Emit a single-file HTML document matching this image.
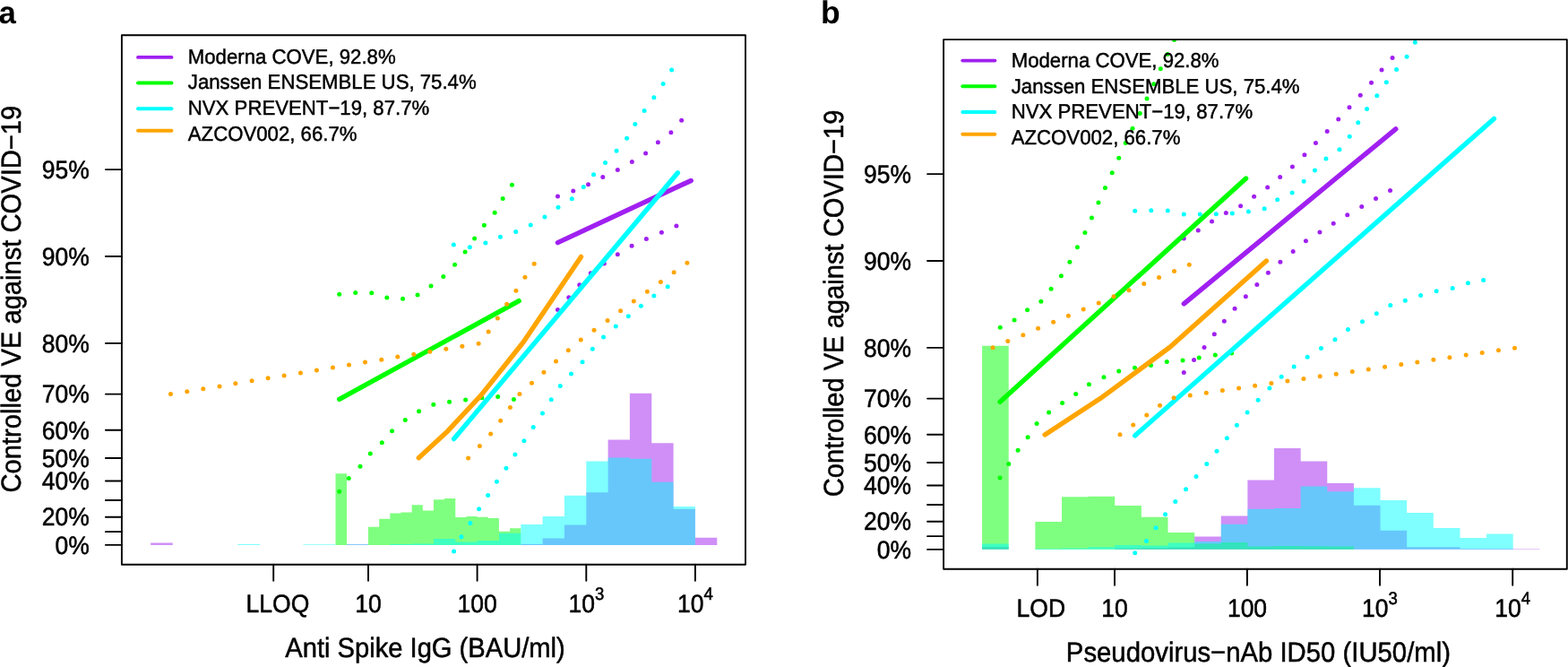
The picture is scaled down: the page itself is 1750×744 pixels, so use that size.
<!DOCTYPE html>
<html><head><meta charset="utf-8"><title>Figure</title>
<style>
html,body{margin:0;padding:0;background:#fff;}
body{width:1750px;height:744px;overflow:hidden;}
svg{display:block;font-family:"Liberation Sans",Arial,Helvetica,sans-serif;font-kerning:none;text-rendering:geometricPrecision;}
</style></head><body>
<svg width="1750" height="744" viewBox="0 0 1750 744">
<rect width="1750" height="744" fill="#fff"/>
<clipPath id="ca"><rect x="135.9" y="39.3" width="696.1" height="590.5"/></clipPath>
<g clip-path="url(#ca)">
<path d="M168.2,607.9L168.2,605.4L192.7,605.4L192.7,607.9Z M387,607.9L387,607.3L411,607.3L411,607.9Z M581.3,607.9L581.3,606.9L605.6,606.9L605.6,600.4L629.9,600.4L629.9,585.6L654.3,585.6L654.3,549.2L678.6,549.2L678.6,490.6L702.9,490.6L702.9,438.8L727.3,438.8L727.3,494.2L751.6,494.2L751.6,567.8L775.9,567.8L775.9,599.8L800.3,599.8L800.3,607.9Z" fill="#A020F0" fill-opacity="0.5"/>
<path d="M374.5,607.9L374.5,528.3L387,528.3L387,607.9Z M411,607.9L411,587.8L423.16,587.8L423.16,578.8L435.32,578.8L435.32,572.6L447.48,572.6L447.48,571.6L459.64,571.6L459.64,563.3L471.8,563.3L471.8,569.6L483.96,569.6L483.96,557.3L496.12,557.3L496.12,556L508.28,556L508.28,577.1L520.44,577.1L520.44,576.1L532.6,576.1L532.6,576.8L544.76,576.8L544.76,578.1L556.92,578.1L556.92,592.8L569.08,592.8L569.08,589.3L581.24,589.3L581.24,607.9Z" fill="#00FF00" fill-opacity="0.5"/>
<path d="M265.3,607.9L265.3,606.9L289.9,606.9L289.9,607.9Z M338.4,607.9L338.4,607.2L374.5,607.2L374.5,607.9Z M387,607.9L387,607.3L411,607.3L411,607.9Z M435.3,607.9L435.3,606.9L459.6,606.9L459.6,606.4L484,606.4L484,600.9L508.3,600.9L508.3,604.6L532.6,604.6L532.6,603.1L557,603.1L557,594.8L581.3,594.8L581.3,585.1L605.6,585.1L605.6,576.1L629.9,576.1L629.9,552.8L654.3,552.8L654.3,514.4L678.6,514.4L678.6,510.4L702.9,510.4L702.9,511.7L727.3,511.7L727.3,537.7L751.6,537.7L751.6,565.1L775.9,565.1L775.9,607.9Z" fill="#00FFFF" fill-opacity="0.5"/>
<polyline points="622.5,270.6 771.2,201.5" fill="none" stroke="#A020F0" stroke-width="5.4" stroke-linecap="round" stroke-linejoin="round"/>
<g fill="#A020F0">
<circle cx="622.48" cy="219.04" r="2.5"/>
<circle cx="639.75" cy="213.03" r="2.5"/>
<circle cx="656.52" cy="205.77" r="2.5"/>
<circle cx="672.79" cy="197.51" r="2.5"/>
<circle cx="689.32" cy="189.5" r="2.5"/>
<circle cx="705.34" cy="180.48" r="2.5"/>
<circle cx="720.6" cy="170.96" r="2.5"/>
<circle cx="734.37" cy="158.7" r="2.5"/>
<circle cx="748.89" cy="147.68" r="2.5"/>
<circle cx="760.65" cy="134.17" r="2.5"/>
<circle cx="622.48" cy="345.45" r="2.5"/>
<circle cx="634.75" cy="331.68" r="2.5"/>
<circle cx="646.76" cy="317.66" r="2.5"/>
<circle cx="659.28" cy="304.65" r="2.5"/>
<circle cx="674.3" cy="293.88" r="2.5"/>
<circle cx="689.32" cy="283.87" r="2.5"/>
<circle cx="705.09" cy="274.36" r="2.5"/>
<circle cx="721.36" cy="266.6" r="2.5"/>
<circle cx="738.38" cy="259.34" r="2.5"/>
<circle cx="754.9" cy="252.08" r="2.5"/>
</g>
<polyline points="378.7,445.3 579.2,335.7" fill="none" stroke="#00FF00" stroke-width="5.4" stroke-linecap="round" stroke-linejoin="round"/>
<g fill="#00FF00">
<circle cx="378.72" cy="328.18" r="2.5"/>
<circle cx="396.75" cy="326.43" r="2.5"/>
<circle cx="414.77" cy="326.68" r="2.5"/>
<circle cx="431.79" cy="331.93" r="2.5"/>
<circle cx="449.52" cy="333.18" r="2.5"/>
<circle cx="466.04" cy="328.93" r="2.5"/>
<circle cx="481.06" cy="318.92" r="2.5"/>
<circle cx="494.82" cy="308.4" r="2.5"/>
<circle cx="507.59" cy="295.14" r="2.5"/>
<circle cx="519.1" cy="281.12" r="2.5"/>
<circle cx="529.62" cy="266.1" r="2.5"/>
<circle cx="540.38" cy="251.33" r="2.5"/>
<circle cx="552.14" cy="237.31" r="2.5"/>
<circle cx="561.16" cy="221.54" r="2.5"/>
<circle cx="571.42" cy="206.28" r="2.5"/>
<circle cx="378.72" cy="548.22" r="2.5"/>
<circle cx="389.24" cy="533.45" r="2.5"/>
<circle cx="402" cy="520.19" r="2.5"/>
<circle cx="413.27" cy="505.92" r="2.5"/>
<circle cx="426.28" cy="493.65" r="2.5"/>
<circle cx="437.55" cy="480.64" r="2.5"/>
<circle cx="452.27" cy="468.62" r="2.5"/>
<circle cx="467.54" cy="458.86" r="2.5"/>
<circle cx="483.81" cy="451.35" r="2.5"/>
<circle cx="501.58" cy="448.35" r="2.5"/>
<circle cx="519.6" cy="446.09" r="2.5"/>
<circle cx="537.88" cy="443.84" r="2.5"/>
<circle cx="555.65" cy="442.59" r="2.5"/>
<circle cx="573.42" cy="445.59" r="2.5"/>
</g>
<polyline points="506.6,489.6 756.4,192.8" fill="none" stroke="#00FFFF" stroke-width="5.4" stroke-linecap="round" stroke-linejoin="round"/>
<g fill="#00FFFF">
<circle cx="506.34" cy="273.11" r="2.5"/>
<circle cx="524.36" cy="275.86" r="2.5"/>
<circle cx="541.88" cy="271.11" r="2.5"/>
<circle cx="558.4" cy="264.35" r="2.5"/>
<circle cx="575.67" cy="258.59" r="2.5"/>
<circle cx="592.19" cy="251.08" r="2.5"/>
<circle cx="607.96" cy="242.07" r="2.5"/>
<circle cx="622.98" cy="231.31" r="2.5"/>
<circle cx="638.25" cy="221.79" r="2.5"/>
<circle cx="651.27" cy="208.53" r="2.5"/>
<circle cx="662.53" cy="194.76" r="2.5"/>
<circle cx="675.55" cy="181.48" r="2.5"/>
<circle cx="688.06" cy="168.21" r="2.5"/>
<circle cx="699.58" cy="154.19" r="2.5"/>
<circle cx="708.84" cy="138.42" r="2.5"/>
<circle cx="719.1" cy="123.4" r="2.5"/>
<circle cx="729.87" cy="108.64" r="2.5"/>
<circle cx="740.13" cy="93.62" r="2.5"/>
<circle cx="749.64" cy="78.1" r="2.5"/>
<circle cx="506.59" cy="615.12" r="2.5"/>
<circle cx="514.85" cy="598.85" r="2.5"/>
<circle cx="524.86" cy="583.58" r="2.5"/>
<circle cx="534.62" cy="567.81" r="2.5"/>
<circle cx="544.63" cy="552.48" r="2.5"/>
<circle cx="554.4" cy="537.21" r="2.5"/>
<circle cx="564.91" cy="522.19" r="2.5"/>
<circle cx="574.92" cy="506.92" r="2.5"/>
<circle cx="584.93" cy="491.65" r="2.5"/>
<circle cx="595.2" cy="476.38" r="2.5"/>
<circle cx="605.46" cy="461.11" r="2.5"/>
<circle cx="615.22" cy="445.84" r="2.5"/>
<circle cx="625.24" cy="430.57" r="2.5"/>
<circle cx="637.5" cy="417.06" r="2.5"/>
<circle cx="650.02" cy="403.79" r="2.5"/>
<circle cx="661.28" cy="389.27" r="2.5"/>
<circle cx="673.55" cy="376.01" r="2.5"/>
<circle cx="687.31" cy="363.97" r="2.5"/>
<circle cx="701.33" cy="352.71" r="2.5"/>
<circle cx="715.35" cy="341.19" r="2.5"/>
<circle cx="729.87" cy="329.93" r="2.5"/>
<circle cx="745.14" cy="319.67" r="2.5"/>
</g>
<polyline points="467.3,510.7 499.6,480.9 537.1,440.6 584.2,381.5 648.5,286.4" fill="none" stroke="#FFA500" stroke-width="5.4" stroke-linecap="round" stroke-linejoin="round"/>
<g fill="#FFA500">
<circle cx="190.49" cy="439.58" r="2.5"/>
<circle cx="208.76" cy="436.83" r="2.5"/>
<circle cx="226.78" cy="433.83" r="2.5"/>
<circle cx="245.06" cy="431.07" r="2.5"/>
<circle cx="262.83" cy="427.82" r="2.5"/>
<circle cx="281.1" cy="424.82" r="2.5"/>
<circle cx="299.12" cy="421.81" r="2.5"/>
<circle cx="317.15" cy="419.06" r="2.5"/>
<circle cx="335.42" cy="416.06" r="2.5"/>
<circle cx="353.44" cy="413.05" r="2.5"/>
<circle cx="371.46" cy="410.05" r="2.5"/>
<circle cx="389.49" cy="407.04" r="2.5"/>
<circle cx="407.51" cy="404.04" r="2.5"/>
<circle cx="425.78" cy="401.29" r="2.5"/>
<circle cx="443.76" cy="398.03" r="2.5"/>
<circle cx="461.78" cy="395.28" r="2.5"/>
<circle cx="479.8" cy="392.28" r="2.5"/>
<circle cx="497.83" cy="389.27" r="2.5"/>
<circle cx="515.85" cy="386.27" r="2.5"/>
<circle cx="534.12" cy="383.26" r="2.5"/>
<circle cx="545.14" cy="369.98" r="2.5"/>
<circle cx="555.4" cy="354.96" r="2.5"/>
<circle cx="565.66" cy="339.19" r="2.5"/>
<circle cx="575.92" cy="324.17" r="2.5"/>
<circle cx="585.94" cy="309.15" r="2.5"/>
<circle cx="596.2" cy="294.14" r="2.5"/>
<circle cx="522.61" cy="510.92" r="2.5"/>
<circle cx="535.37" cy="497.41" r="2.5"/>
<circle cx="547.64" cy="483.89" r="2.5"/>
<circle cx="558.65" cy="469.37" r="2.5"/>
<circle cx="569.42" cy="454.6" r="2.5"/>
<circle cx="579.93" cy="439.58" r="2.5"/>
<circle cx="593.45" cy="427.32" r="2.5"/>
<circle cx="606.96" cy="415.3" r="2.5"/>
<circle cx="620.48" cy="403.04" r="2.5"/>
<circle cx="634.25" cy="390.77" r="2.5"/>
<circle cx="648.26" cy="379.01" r="2.5"/>
<circle cx="663.03" cy="368.23" r="2.5"/>
<circle cx="678.05" cy="357.46" r="2.5"/>
<circle cx="692.57" cy="346.7" r="2.5"/>
<circle cx="707.34" cy="335.94" r="2.5"/>
<circle cx="722.36" cy="325.17" r="2.5"/>
<circle cx="737.38" cy="314.41" r="2.5"/>
<circle cx="752.14" cy="303.65" r="2.5"/>
<circle cx="766.91" cy="293.13" r="2.5"/>
</g>
</g>
<g stroke="#000" stroke-width="1.9" fill="none" stroke-linecap="round" stroke-linejoin="round">
<rect x="135.9" y="39.3" width="696.1" height="590.5"/>
<line x1="117.9" y1="189.1" x2="135.9" y2="189.1"/>
<line x1="117.9" y1="286" x2="135.9" y2="286"/>
<line x1="117.9" y1="382.9" x2="135.9" y2="382.9"/>
<line x1="117.9" y1="439.58" x2="135.9" y2="439.58"/>
<line x1="117.9" y1="479.8" x2="135.9" y2="479.8"/>
<line x1="117.9" y1="511" x2="135.9" y2="511"/>
<line x1="117.9" y1="536.49" x2="135.9" y2="536.49"/>
<line x1="117.9" y1="558.04" x2="135.9" y2="558.04"/>
<line x1="117.9" y1="576.7" x2="135.9" y2="576.7"/>
<line x1="117.9" y1="593.17" x2="135.9" y2="593.17"/>
<line x1="117.9" y1="607.9" x2="135.9" y2="607.9"/>
<line x1="305.2" y1="629.8" x2="305.2" y2="647.8"/>
<line x1="411" y1="629.8" x2="411" y2="647.8"/>
<line x1="532.6" y1="629.8" x2="532.6" y2="647.8"/>
<line x1="654.3" y1="629.8" x2="654.3" y2="647.8"/>
<line x1="775.9" y1="629.8" x2="775.9" y2="647.8"/>
</g>
<g font-size="26.5" fill="#000" stroke="#000" stroke-width="0.5" stroke-linejoin="round">
<text transform="translate(99.8,198.8) scale(1,1.068)" text-anchor="end">95%</text>
<text transform="translate(99.8,295.7) scale(1,1.068)" text-anchor="end">90%</text>
<text transform="translate(99.8,392.6) scale(1,1.068)" text-anchor="end">80%</text>
<text transform="translate(99.8,449.28) scale(1,1.068)" text-anchor="end">70%</text>
<text transform="translate(99.8,489.5) scale(1,1.068)" text-anchor="end">60%</text>
<text transform="translate(99.8,520.7) scale(1,1.068)" text-anchor="end">50%</text>
<text transform="translate(99.8,546.19) scale(1,1.068)" text-anchor="end">40%</text>
<text transform="translate(99.8,586.4) scale(1,1.068)" text-anchor="end">20%</text>
<text transform="translate(99.8,617.6) scale(1,1.068)" text-anchor="end">0%</text>
<text transform="translate(309.9,683.1) scale(1,1.068)" text-anchor="middle">LLOQ</text>
<text transform="translate(411.1,683.1) scale(1,1.068)" text-anchor="middle">10</text>
<text transform="translate(532.7,683.1) scale(1,1.068)" text-anchor="middle">100</text>
<text transform="translate(634.41,683.1) scale(1,1.068)">10<tspan font-size="18.55" dy="-13.3">3</tspan></text>
<text transform="translate(756.01,683.1) scale(1,1.068)">10<tspan font-size="18.55" dy="-13.3">4</tspan></text>
</g>
<g font-size="29.15" fill="#000" stroke="#000" stroke-width="0.5" stroke-linejoin="round">
<text font-size="29.15" transform="translate(474.5,732.7) scale(1,1.06)" text-anchor="middle">Anti Spike IgG (BAU/ml)</text>
<text transform="translate(23.3,333.6) rotate(-90) scale(1,1.06)" text-anchor="middle">Controlled VE against COVID−19</text>
</g>
<text x="-1.5" y="25.9" font-size="34.8" font-weight="bold">a</text>
<line x1="154" y1="63.9" x2="191.5" y2="63.9" stroke="#A020F0" stroke-width="3.9" stroke-linecap="round"/>
<line x1="154" y1="92.5" x2="191.5" y2="92.5" stroke="#00FF00" stroke-width="3.9" stroke-linecap="round"/>
<line x1="154" y1="121.2" x2="191.5" y2="121.2" stroke="#00FFFF" stroke-width="3.9" stroke-linecap="round"/>
<line x1="154" y1="145.8" x2="191.5" y2="145.8" stroke="#FFA500" stroke-width="3.9" stroke-linecap="round"/>
<g font-size="22.2" fill="#000" stroke="#000" stroke-width="0.45" stroke-linejoin="round">
<text transform="translate(209.8,70.7) scale(1,1.03)">Moderna COVE, 92.8%</text>
<text transform="translate(209.8,99.4) scale(1,1.03)">Janssen ENSEMBLE US, 75.4%</text>
<text transform="translate(209.8,128) scale(1,1.03)">NVX PREVENT−19, 87.7%</text>
<text transform="translate(209.8,156.7) scale(1,1.03)">AZCOV002, 66.7%</text>
</g>
<clipPath id="cb"><rect x="1053.1" y="44.1" width="695.7" height="590.7"/></clipPath>
<g clip-path="url(#cb)">
<path d="M1096.1,612.7L1096.1,609.9L1125.73,609.9L1125.73,612.7Z M1244.25,612.7L1244.25,611.8L1273.88,611.8L1273.88,611.2L1303.51,611.2L1303.51,610.5L1333.14,610.5L1333.14,598.6L1362.77,598.6L1362.77,575.6L1392.4,575.6L1392.4,535.5L1422.03,535.5L1422.03,499.9L1451.66,499.9L1451.66,514.4L1481.29,514.4L1481.29,539L1510.92,539L1510.92,563.8L1540.55,563.8L1540.55,591.8L1570.18,591.8L1570.18,610.2L1599.81,610.2L1599.81,610.2L1629.44,610.2L1629.44,612L1659.07,612L1659.07,612L1688.7,612L1688.7,612.2L1718.33,612.2L1718.33,612.7Z" fill="#A020F0" fill-opacity="0.5"/>
<path d="M1096.1,612.7L1096.1,385.8L1125.73,385.8L1125.73,612.7Z M1155.36,612.7L1155.36,582.1L1184.99,582.1L1184.99,554.3L1214.62,554.3L1214.62,553.8L1244.25,553.8L1244.25,564.1L1273.88,564.1L1273.88,576.8L1303.51,576.8L1303.51,594.1L1333.14,594.1L1333.14,606.4L1362.77,606.4L1362.77,605.1L1392.4,605.1L1392.4,609.6L1422.03,609.6L1422.03,608.9L1451.66,608.9L1451.66,609.3L1481.29,609.3L1481.29,609.4L1510.92,609.4L1510.92,612.7Z" fill="#00FF00" fill-opacity="0.5"/>
<path d="M1096.1,612.7L1096.1,606.5L1125.73,606.5L1125.73,612.7Z M1155.36,612.7L1155.36,612L1184.99,612L1184.99,611.5L1214.62,611.5L1214.62,610.2L1244.25,610.2L1244.25,608.1L1273.88,608.1L1273.88,608.6L1303.51,608.6L1303.51,605.6L1333.14,605.6L1333.14,604.1L1362.77,604.1L1362.77,584.8L1392.4,584.8L1392.4,567.8L1422.03,567.8L1422.03,567.1L1451.66,567.1L1451.66,542.5L1481.29,542.5L1481.29,548.3L1510.92,548.3L1510.92,544.3L1540.55,544.3L1540.55,558L1570.18,558L1570.18,572.1L1599.81,572.1L1599.81,589.1L1629.44,589.1L1629.44,600.1L1659.07,600.1L1659.07,595.6L1688.7,595.6L1688.7,612.7Z" fill="#00FFFF" fill-opacity="0.5"/>
<polyline points="1321.3,338.9 1557.8,143.9" fill="none" stroke="#A020F0" stroke-width="5.4" stroke-linecap="round" stroke-linejoin="round"/>
<g fill="#A020F0">
<circle cx="1321.26" cy="266.1" r="2.5"/>
<circle cx="1337.28" cy="257.09" r="2.5"/>
<circle cx="1352.55" cy="247.08" r="2.5"/>
<circle cx="1368.32" cy="237.56" r="2.5"/>
<circle cx="1384.59" cy="229.8" r="2.5"/>
<circle cx="1399.61" cy="219.29" r="2.5"/>
<circle cx="1414.63" cy="209.03" r="2.5"/>
<circle cx="1428.65" cy="197.51" r="2.5"/>
<circle cx="1442.41" cy="186" r="2.5"/>
<circle cx="1455.93" cy="172.72" r="2.5"/>
<circle cx="1468.45" cy="159.45" r="2.5"/>
<circle cx="1481.21" cy="146.43" r="2.5"/>
<circle cx="1493.73" cy="132.92" r="2.5"/>
<circle cx="1505.99" cy="119.65" r="2.5"/>
<circle cx="1518.26" cy="106.13" r="2.5"/>
<circle cx="1530.52" cy="92.37" r="2.5"/>
<circle cx="1542.04" cy="78.1" r="2.5"/>
<circle cx="1554.05" cy="64.58" r="2.5"/>
<circle cx="1321.26" cy="415.55" r="2.5"/>
<circle cx="1332.53" cy="401.54" r="2.5"/>
<circle cx="1344.04" cy="387.52" r="2.5"/>
<circle cx="1355.3" cy="372.75" r="2.5"/>
<circle cx="1366.32" cy="358.22" r="2.5"/>
<circle cx="1378.08" cy="344.2" r="2.5"/>
<circle cx="1390.35" cy="330.68" r="2.5"/>
<circle cx="1402.86" cy="317.41" r="2.5"/>
<circle cx="1415.38" cy="304.15" r="2.5"/>
<circle cx="1428.9" cy="292.13" r="2.5"/>
<circle cx="1443.16" cy="280.62" r="2.5"/>
<circle cx="1457.43" cy="268.85" r="2.5"/>
<circle cx="1472.95" cy="259.09" r="2.5"/>
<circle cx="1488.22" cy="249.33" r="2.5"/>
<circle cx="1503.74" cy="239.82" r="2.5"/>
<circle cx="1519.76" cy="230.56" r="2.5"/>
<circle cx="1535.53" cy="221.54" r="2.5"/>
<circle cx="1551.55" cy="212.53" r="2.5"/>
</g>
<polyline points="1116.1,448.3 1390.6,199" fill="none" stroke="#00FF00" stroke-width="5.4" stroke-linecap="round" stroke-linejoin="round"/>
<g fill="#00FF00">
<circle cx="1116.3" cy="365.22" r="2.5"/>
<circle cx="1132.07" cy="356.96" r="2.5"/>
<circle cx="1146.59" cy="345.7" r="2.5"/>
<circle cx="1161.86" cy="336.19" r="2.5"/>
<circle cx="1173.12" cy="322.17" r="2.5"/>
<circle cx="1184.39" cy="307.65" r="2.5"/>
<circle cx="1193.9" cy="292.13" r="2.5"/>
<circle cx="1202.41" cy="275.86" r="2.5"/>
<circle cx="1210.92" cy="259.59" r="2.5"/>
<circle cx="1218.43" cy="243.07" r="2.5"/>
<circle cx="1225.94" cy="226.05" r="2.5"/>
<circle cx="1233.45" cy="209.53" r="2.5"/>
<circle cx="1241.21" cy="192.76" r="2.5"/>
<circle cx="1248.72" cy="176.22" r="2.5"/>
<circle cx="1256.23" cy="159.45" r="2.5"/>
<circle cx="1263.99" cy="143.18" r="2.5"/>
<circle cx="1272.25" cy="126.41" r="2.5"/>
<circle cx="1280.01" cy="109.89" r="2.5"/>
<circle cx="1287.77" cy="93.87" r="2.5"/>
<circle cx="1295.28" cy="76.85" r="2.5"/>
<circle cx="1303.04" cy="60.58" r="2.5"/>
<circle cx="1310.54" cy="44.56" r="2.5"/>
<circle cx="1116.05" cy="532.95" r="2.5"/>
<circle cx="1125.81" cy="517.43" r="2.5"/>
<circle cx="1136.08" cy="502.16" r="2.5"/>
<circle cx="1147.09" cy="487.64" r="2.5"/>
<circle cx="1157.1" cy="472.38" r="2.5"/>
<circle cx="1170.62" cy="460.11" r="2.5"/>
<circle cx="1185.64" cy="449.6" r="2.5"/>
<circle cx="1200.66" cy="439.58" r="2.5"/>
<circle cx="1215.43" cy="428.82" r="2.5"/>
<circle cx="1231.95" cy="420.81" r="2.5"/>
<circle cx="1248.72" cy="414.05" r="2.5"/>
<circle cx="1266.49" cy="410.3" r="2.5"/>
<circle cx="1284.51" cy="407.54" r="2.5"/>
<circle cx="1302.28" cy="403.54" r="2.5"/>
<circle cx="1320.01" cy="402.04" r="2.5"/>
<circle cx="1338.28" cy="399.03" r="2.5"/>
<circle cx="1356.31" cy="396.03" r="2.5"/>
<circle cx="1374.58" cy="394.03" r="2.5"/>
</g>
<polyline points="1266.7,485.9 1667.4,132.4" fill="none" stroke="#00FFFF" stroke-width="5.4" stroke-linecap="round" stroke-linejoin="round"/>
<g fill="#00FFFF">
<circle cx="1266.74" cy="235.31" r="2.5"/>
<circle cx="1284.76" cy="234.81" r="2.5"/>
<circle cx="1303.29" cy="235.06" r="2.5"/>
<circle cx="1321.26" cy="239.07" r="2.5"/>
<circle cx="1339.28" cy="239.07" r="2.5"/>
<circle cx="1357.31" cy="238.82" r="2.5"/>
<circle cx="1375.33" cy="238.07" r="2.5"/>
<circle cx="1393.35" cy="236.06" r="2.5"/>
<circle cx="1411.12" cy="232.81" r="2.5"/>
<circle cx="1425.64" cy="222.8" r="2.5"/>
<circle cx="1442.16" cy="215.04" r="2.5"/>
<circle cx="1455.18" cy="202.27" r="2.5"/>
<circle cx="1467.44" cy="190.01" r="2.5"/>
<circle cx="1479.96" cy="176.97" r="2.5"/>
<circle cx="1494.98" cy="166.71" r="2.5"/>
<circle cx="1506.24" cy="152.19" r="2.5"/>
<circle cx="1515.75" cy="136.67" r="2.5"/>
<circle cx="1525.52" cy="121.4" r="2.5"/>
<circle cx="1536.78" cy="106.63" r="2.5"/>
<circle cx="1547.29" cy="91.86" r="2.5"/>
<circle cx="1558.56" cy="77.6" r="2.5"/>
<circle cx="1570.07" cy="63.33" r="2.5"/>
<circle cx="1579.33" cy="47.31" r="2.5"/>
<circle cx="1266.74" cy="616.87" r="2.5"/>
<circle cx="1279.51" cy="603.6" r="2.5"/>
<circle cx="1290.02" cy="588.84" r="2.5"/>
<circle cx="1300.53" cy="573.82" r="2.5"/>
<circle cx="1311.8" cy="559.55" r="2.5"/>
<circle cx="1323.51" cy="545.78" r="2.5"/>
<circle cx="1335.03" cy="531.51" r="2.5"/>
<circle cx="1346.79" cy="517.43" r="2.5"/>
<circle cx="1358.06" cy="503.16" r="2.5"/>
<circle cx="1369.32" cy="488.65" r="2.5"/>
<circle cx="1380.34" cy="474.13" r="2.5"/>
<circle cx="1392.1" cy="460.11" r="2.5"/>
<circle cx="1404.12" cy="446.34" r="2.5"/>
<circle cx="1416.88" cy="433.08" r="2.5"/>
<circle cx="1430.15" cy="420.31" r="2.5"/>
<circle cx="1444.17" cy="409.05" r="2.5"/>
<circle cx="1459.18" cy="398.28" r="2.5"/>
<circle cx="1474.45" cy="388.52" r="2.5"/>
<circle cx="1489.97" cy="378.76" r="2.5"/>
<circle cx="1504.49" cy="367.48" r="2.5"/>
<circle cx="1520.51" cy="358.72" r="2.5"/>
<circle cx="1536.28" cy="349.7" r="2.5"/>
<circle cx="1551.8" cy="340.44" r="2.5"/>
<circle cx="1568.32" cy="335.19" r="2.5"/>
<circle cx="1585.59" cy="329.43" r="2.5"/>
<circle cx="1603.11" cy="324.67" r="2.5"/>
<circle cx="1621.14" cy="321.42" r="2.5"/>
<circle cx="1638.41" cy="315.66" r="2.5"/>
<circle cx="1655.68" cy="312.41" r="2.5"/>
</g>
<polyline points="1166.1,484.9 1227.9,444.6 1306,387 1413.4,291.1" fill="none" stroke="#FFA500" stroke-width="5.4" stroke-linecap="round" stroke-linejoin="round"/>
<g fill="#FFA500">
<circle cx="1108.04" cy="387.77" r="2.5"/>
<circle cx="1124.81" cy="380.51" r="2.5"/>
<circle cx="1141.83" cy="373.75" r="2.5"/>
<circle cx="1158.6" cy="366.23" r="2.5"/>
<circle cx="1175.63" cy="359.22" r="2.5"/>
<circle cx="1192.4" cy="352.21" r="2.5"/>
<circle cx="1209.17" cy="344.95" r="2.5"/>
<circle cx="1226.19" cy="337.94" r="2.5"/>
<circle cx="1242.96" cy="330.68" r="2.5"/>
<circle cx="1259.98" cy="323.67" r="2.5"/>
<circle cx="1276.75" cy="316.41" r="2.5"/>
<circle cx="1293.52" cy="309.4" r="2.5"/>
<circle cx="1310.54" cy="302.4" r="2.5"/>
<circle cx="1327.27" cy="295.14" r="2.5"/>
<circle cx="1249.97" cy="484.64" r="2.5"/>
<circle cx="1264.74" cy="473.88" r="2.5"/>
<circle cx="1279.76" cy="463.11" r="2.5"/>
<circle cx="1294.52" cy="452.35" r="2.5"/>
<circle cx="1310.04" cy="443.84" r="2.5"/>
<circle cx="1328.27" cy="441.09" r="2.5"/>
<circle cx="1346.29" cy="438.33" r="2.5"/>
<circle cx="1364.32" cy="435.58" r="2.5"/>
<circle cx="1382.59" cy="433.08" r="2.5"/>
<circle cx="1400.61" cy="430.32" r="2.5"/>
<circle cx="1418.88" cy="427.57" r="2.5"/>
<circle cx="1436.91" cy="425.07" r="2.5"/>
<circle cx="1454.93" cy="422.56" r="2.5"/>
<circle cx="1473.2" cy="419.81" r="2.5"/>
<circle cx="1491.22" cy="417.31" r="2.5"/>
<circle cx="1509.25" cy="414.55" r="2.5"/>
<circle cx="1527.27" cy="412.05" r="2.5"/>
<circle cx="1545.54" cy="409.3" r="2.5"/>
<circle cx="1563.81" cy="406.54" r="2.5"/>
<circle cx="1581.84" cy="404.04" r="2.5"/>
<circle cx="1599.86" cy="401.29" r="2.5"/>
<circle cx="1617.88" cy="398.78" r="2.5"/>
<circle cx="1636.16" cy="396.03" r="2.5"/>
<circle cx="1654.18" cy="393.53" r="2.5"/>
<circle cx="1672.45" cy="390.77" r="2.5"/>
<circle cx="1690.47" cy="388.27" r="2.5"/>
</g>
</g>
<g stroke="#000" stroke-width="1.9" fill="none" stroke-linecap="round" stroke-linejoin="round">
<rect x="1053.1" y="44.1" width="695.7" height="590.7"/>
<line x1="1035.1" y1="194.1" x2="1053.1" y2="194.1"/>
<line x1="1035.1" y1="291" x2="1053.1" y2="291"/>
<line x1="1035.1" y1="387.9" x2="1053.1" y2="387.9"/>
<line x1="1035.1" y1="444.58" x2="1053.1" y2="444.58"/>
<line x1="1035.1" y1="484.8" x2="1053.1" y2="484.8"/>
<line x1="1035.1" y1="516" x2="1053.1" y2="516"/>
<line x1="1035.1" y1="541.49" x2="1053.1" y2="541.49"/>
<line x1="1035.1" y1="563.04" x2="1053.1" y2="563.04"/>
<line x1="1035.1" y1="581.7" x2="1053.1" y2="581.7"/>
<line x1="1035.1" y1="598.17" x2="1053.1" y2="598.17"/>
<line x1="1035.1" y1="612.9" x2="1053.1" y2="612.9"/>
<line x1="1157.9" y1="634.8" x2="1157.9" y2="652.8"/>
<line x1="1244" y1="634.8" x2="1244" y2="652.8"/>
<line x1="1391.9" y1="634.8" x2="1391.9" y2="652.8"/>
<line x1="1540" y1="634.8" x2="1540" y2="652.8"/>
<line x1="1688.2" y1="634.8" x2="1688.2" y2="652.8"/>
</g>
<g font-size="26.5" fill="#000" stroke="#000" stroke-width="0.5" stroke-linejoin="round">
<text transform="translate(1017.1,203.8) scale(1,1.068)" text-anchor="end">95%</text>
<text transform="translate(1017.1,300.7) scale(1,1.068)" text-anchor="end">90%</text>
<text transform="translate(1017.1,397.6) scale(1,1.068)" text-anchor="end">80%</text>
<text transform="translate(1017.1,454.28) scale(1,1.068)" text-anchor="end">70%</text>
<text transform="translate(1017.1,494.5) scale(1,1.068)" text-anchor="end">60%</text>
<text transform="translate(1017.1,525.7) scale(1,1.068)" text-anchor="end">50%</text>
<text transform="translate(1017.1,551.19) scale(1,1.068)" text-anchor="end">40%</text>
<text transform="translate(1017.1,591.4) scale(1,1.068)" text-anchor="end">20%</text>
<text transform="translate(1017.1,622.6) scale(1,1.068)" text-anchor="end">0%</text>
<text transform="translate(1161.8,688) scale(1,1.068)" text-anchor="middle">LOD</text>
<text transform="translate(1244.1,688) scale(1,1.068)" text-anchor="middle">10</text>
<text transform="translate(1392,688) scale(1,1.068)" text-anchor="middle">100</text>
<text transform="translate(1520.11,688) scale(1,1.068)">10<tspan font-size="18.55" dy="-13.3">3</tspan></text>
<text transform="translate(1668.31,688) scale(1,1.068)">10<tspan font-size="18.55" dy="-13.3">4</tspan></text>
</g>
<g font-size="29.15" fill="#000" stroke="#000" stroke-width="0.5" stroke-linejoin="round">
<text font-size="29.3" transform="translate(1404.4,737.6) scale(1,1.06)" text-anchor="middle">Pseudovirus−nAb ID50 (IU50/ml)</text>
<text transform="translate(940.6,338.4) rotate(-90) scale(1,1.06)" text-anchor="middle">Controlled VE against COVID−19</text>
</g>
<text x="916" y="25.8" font-size="35.5" font-weight="bold">b</text>
<line x1="1074.3" y1="67.6" x2="1110.4" y2="67.6" stroke="#A020F0" stroke-width="3.9" stroke-linecap="round"/>
<line x1="1074.3" y1="96.3" x2="1110.4" y2="96.3" stroke="#00FF00" stroke-width="3.9" stroke-linecap="round"/>
<line x1="1074.3" y1="125" x2="1110.4" y2="125" stroke="#00FFFF" stroke-width="3.9" stroke-linecap="round"/>
<line x1="1074.3" y1="149.7" x2="1110.4" y2="149.7" stroke="#FFA500" stroke-width="3.9" stroke-linecap="round"/>
<g font-size="22.2" fill="#000" stroke="#000" stroke-width="0.45" stroke-linejoin="round">
<text transform="translate(1128.7,75.1) scale(1,1.03)">Moderna COVE, 92.8%</text>
<text transform="translate(1128.7,103.8) scale(1,1.03)">Janssen ENSEMBLE US, 75.4%</text>
<text transform="translate(1128.7,132.4) scale(1,1.03)">NVX PREVENT−19, 87.7%</text>
<text transform="translate(1128.7,161.1) scale(1,1.03)">AZCOV002, 66.7%</text>
</g>
</svg>
</body></html>
